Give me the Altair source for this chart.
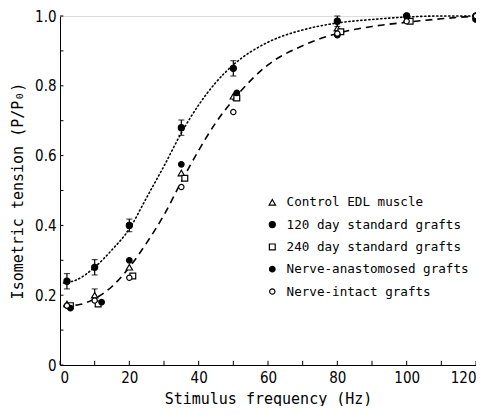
import altair as alt
import pandas as pd

series_names = ["Control EDL muscle", "120 day standard grafts", "240 day standard grafts",
                "Nerve-anastomosed grafts", "Nerve-intact grafts"]

ctrl_x = [2, 10, 20, 35, 50, 80, 100, 120]
ctrl_y = [0.175, 0.20, 0.28, 0.55, 0.77, 0.965, 0.99, 1.0]
d120_x = [2, 10, 20, 35, 50, 80, 100, 120]
d120_y = [0.24, 0.28, 0.40, 0.68, 0.85, 0.985, 1.0, 1.0]
d120_err = [0.022, 0.022, 0.018, 0.022, 0.022, 0.015, 0.0, 0.0]
d240_x = [3, 11, 21, 36, 51, 81, 101, 120]
d240_y = [0.17, 0.175, 0.255, 0.535, 0.765, 0.955, 0.985, 0.995]
na_x = [3, 12, 20, 35, 51, 80, 100, 120]
na_y = [0.163, 0.18, 0.30, 0.575, 0.78, 0.945, 1.0, 0.99]
ni_x = [2, 10, 20, 35, 50, 80, 100, 120]
ni_y = [0.17, 0.185, 0.25, 0.51, 0.725, 0.95, 0.985, 1.0]

ctrl_err_x = [10]
ctrl_err_y = [0.20]
ctrl_err = [0.018]

dotted_x = [1, 5, 10, 15, 20, 25, 30, 35, 40, 45, 50, 60, 70, 80, 90, 100, 110, 120]
dotted_y = [0.235, 0.245, 0.28, 0.33, 0.39, 0.48, 0.57, 0.665, 0.745, 0.81, 0.86, 0.925, 0.96, 0.98, 0.99, 0.997, 1.0, 1.0]
dashed_x = [1, 5, 10, 15, 20, 25, 30, 35, 40, 45, 50, 60, 70, 80, 90, 100, 110, 120]
dashed_y = [0.17, 0.172, 0.19, 0.225, 0.28, 0.35, 0.43, 0.525, 0.615, 0.695, 0.76, 0.86, 0.915, 0.95, 0.97, 0.982, 0.992, 1.0]

x_ticks = list(range(0, 121, 10))
y_ticks = [round(i * 0.1, 1) for i in range(0, 11)]

rows = []
for name, xs, ys in zip(series_names, [ctrl_x, d120_x, d240_x, na_x, ni_x],
                        [ctrl_y, d120_y, d240_y, na_y, ni_y]):
    for a, b in zip(xs, ys):
        rows.append({"series": name, "x": a, "y": b})
pts = pd.DataFrame(rows)

err_rows = []
for a, b, e in zip(d120_x, d120_y, d120_err):
    if e > 0:
        err_rows.append({"x": a, "lo": b - e, "hi": b + e})
for a, b, e in zip(ctrl_err_x, ctrl_err_y, ctrl_err):
    err_rows.append({"x": a, "lo": b - e, "hi": b + e})
errs = pd.DataFrame(err_rows)

curves = pd.DataFrame(
    [{"curve": "dotted", "x": a, "y": b} for a, b in zip(dotted_x, dotted_y)] +
    [{"curve": "dashed", "x": a, "y": b} for a, b in zip(dashed_x, dashed_y)]
)

FONT = "DejaVu Sans Condensed"
MONO = "DejaVu Sans Mono"

xscale = alt.Scale(domain=[0, 120], nice=False, zero=False)
yscale = alt.Scale(domain=[0, 1.0], nice=False, zero=False)

xaxis = alt.Axis(values=x_ticks, labelExpr="datum.value % 20 == 0 ? datum.label : ''",
                 title="Stimulus frequency (Hz)", grid=False, ticks=False, domainColor="black",
                 labelColor="black", labelFont=FONT, labelFontSize=15, labelPadding=5,
                 titleFont=MONO, titleFontSize=15, titleFontWeight="normal",
                 titleColor="black", titlePadding=6, labelOverlap=False)
yaxis = alt.Axis(values=y_ticks,
                 labelExpr="datum.value == 0 ? '0' : (round(datum.value*10) % 2 == 0 ? format(datum.value, '.1f') : '')",
                 title="Isometric tension (P/P₀)", grid=False, ticks=False, domainColor="black",
                 labelColor="black", labelFont=FONT, labelFontSize=15, labelPadding=4,
                 titleFont=MONO, titleFontSize=15, titleFontWeight="normal",
                 titleColor="black", titlePadding=9, labelOverlap=False)

base_x = alt.X("x:Q", scale=xscale, axis=xaxis)
base_y = alt.Y("y:Q", scale=yscale, axis=yaxis)

dotted = alt.Chart(curves).transform_filter(alt.datum.curve == "dotted").mark_line(
    color="black", strokeWidth=1.6, strokeDash=[1.2, 2.8], interpolate="monotone", strokeCap="round"
).encode(x=base_x, y=base_y)
dashed = alt.Chart(curves).transform_filter(alt.datum.curve == "dashed").mark_line(
    color="black", strokeWidth=1.6, strokeDash=[7, 5], interpolate="monotone"
).encode(x=base_x, y=base_y)

ebar = alt.Chart(errs).mark_rule(color="black", strokeWidth=1.2).encode(
    x="x:Q", y="lo:Q", y2="hi:Q")
cap_hi = alt.Chart(errs).mark_tick(color="black", orient="horizontal", size=6, thickness=1.2).encode(
    x="x:Q", y="hi:Q")
cap_lo = alt.Chart(errs).mark_tick(color="black", orient="horizontal", size=6, thickness=1.2).encode(
    x="x:Q", y="lo:Q")

tick_df = pd.DataFrame({"t": x_ticks})
ytick_df = pd.DataFrame({"t": y_ticks})
xt = alt.Chart(tick_df).mark_rule(color="black", strokeWidth=1).encode(
    x="t:Q", y=alt.datum(0), y2=alt.datum(0.012))
yt = alt.Chart(ytick_df).mark_rule(color="black", strokeWidth=1).encode(
    y="t:Q", x=alt.datum(0), x2=alt.datum(1.0))

leg = alt.Legend(title=None, orient="none", legendX=206, legendY=180, labelFont=MONO,
                 labelFontSize=12.6, labelColor="black", rowPadding=9.3, symbolStrokeWidth=1.2,
                 labelOffset=8, labelLimit=0)
points = alt.Chart(pts).mark_point(strokeWidth=1.2, opacity=1, stroke="black").encode(
    x="x:Q", y="y:Q",
    shape=alt.Shape("series:N", sort=series_names, legend=leg,
                    scale=alt.Scale(domain=series_names,
                                    range=["triangle-up", "circle", "square", "circle", "circle"])),
    fill=alt.Fill("series:N", sort=series_names, legend=leg,
                  scale=alt.Scale(domain=series_names,
                                  range=["white", "black", "white", "black", "white"])),
    size=alt.Size("series:N", sort=series_names, legend=leg,
                  scale=alt.Scale(domain=series_names, range=[40, 28, 30, 55, 40])),
)

chart = alt.layer(dotted, dashed, ebar, cap_hi, cap_lo, xt, yt, points).properties(
    width=416, height=349,
    autosize=alt.AutoSizeParams(type="none"),
    padding={"left": 52, "top": 8, "right": 0, "bottom": 41},
).configure_view(stroke=None).configure(background="white")

chart.save("out.html", embed_options={"renderer": "svg", "actions": False})
